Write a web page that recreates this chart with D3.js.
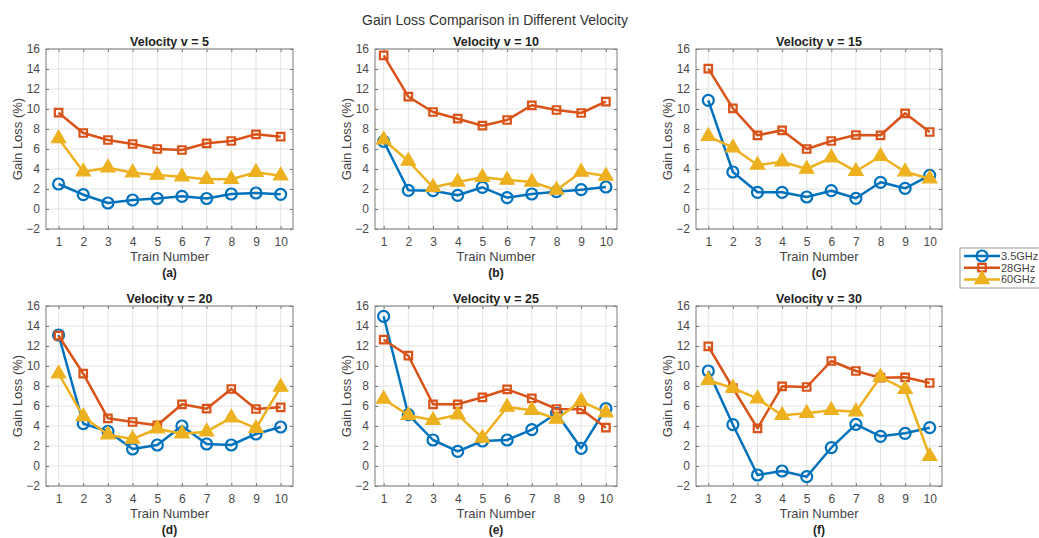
<!DOCTYPE html>
<html>
<head>
<meta charset="utf-8">
<script src="https://cdn.jsdelivr.net/npm/d3@7"></script>
<style>
  body { margin: 0; background: #fff; }
  svg { font-family: "Liberation Sans", Arial, sans-serif; }
  .tick text { fill: #4a4a4a; font-size: 12px; }
</style>
</head>
<body>
<svg id="chart" width="1039" height="538"></svg>
<script>
var trains = [1, 2, 3, 4, 5, 6, 7, 8, 9, 10]
var yTicks = [-2, 0, 2, 4, 6, 8, 10, 12, 14, 16]
var velocities = [5, 10, 15, 20, 25, 30]
var letters = ["a", "b", "c", "d", "e", "f"]
var seriesNames = ["3.5GHz", "28GHz", "60GHz"]

// gain loss (%) per velocity, one array per train
var ghz35 = [
  [2.5, 1.43, 0.6, 0.9, 1.05, 1.27, 1.05, 1.5, 1.6, 1.47],
  [6.77, 1.87, 1.83, 1.37, 2.17, 1.13, 1.5, 1.73, 1.93, 2.2],
  [10.87, 3.7, 1.67, 1.67, 1.2, 1.83, 1.07, 2.67, 2.07, 3.37],
  [13.1, 4.23, 3.47, 1.7, 2.1, 4.0, 2.2, 2.1, 3.2, 3.9],
  [14.97, 5.13, 2.6, 1.47, 2.5, 2.6, 3.63, 5.27, 1.77, 5.73],
  [9.5, 4.13, -0.9, -0.5, -1.07, 1.83, 4.17, 2.97, 3.27, 3.83]
]
var ghz28 = [
  [9.63, 7.6, 6.9, 6.5, 6.0, 5.9, 6.57, 6.8, 7.47, 7.23],
  [15.37, 11.23, 9.7, 9.03, 8.33, 8.9, 10.37, 9.9, 9.6, 10.73],
  [14.03, 10.07, 7.37, 7.87, 6.0, 6.8, 7.4, 7.37, 9.57, 7.7],
  [13.03, 9.23, 4.77, 4.4, 4.07, 6.17, 5.73, 7.7, 5.7, 5.87],
  [12.63, 11.03, 6.17, 6.17, 6.87, 7.67, 6.77, 5.7, 5.67, 3.83],
  [11.97, 7.8, 3.77, 7.97, 7.9, 10.5, 9.5, 8.83, 8.87, 8.3]
]
var ghz60 = [
  [7.05, 3.73, 4.13, 3.63, 3.4, 3.23, 2.97, 2.97, 3.67, 3.33],
  [6.93, 4.8, 2.17, 2.7, 3.17, 2.9, 2.7, 1.9, 3.7, 3.3],
  [7.27, 6.13, 4.4, 4.73, 4.0, 5.13, 3.77, 5.27, 3.73, 3.03],
  [9.23, 4.96, 3.13, 2.7, 3.73, 3.23, 3.43, 4.83, 3.77, 7.9],
  [6.7, 5.07, 4.57, 5.13, 2.8, 5.9, 5.57, 4.7, 6.47, 5.33],
  [8.57, 7.8, 6.73, 5.07, 5.27, 5.57, 5.43, 8.9, 7.67, 0.97]
]

var colors = ["#0072BD", "#D95319", "#EDB120"]
var allSeries = [ghz35, ghz28, ghz60]

// panel geometry
var cols = [
  {left: 46, right: 293, xlim: [0.49, 10.5]},
  {left: 375, right: 617, xlim: [0.65, 10.45]},
  {left: 696, right: 942, xlim: [0.5, 10.5]}
]
var rows = [{top: 49, bottom: 229}, {top: 306, bottom: 486}]

var svg = d3.select("#chart")

svg.append("text")
  .attr("x", 495).attr("y", 25)
  .attr("text-anchor", "middle")
  .style("font-size", "14px").style("fill", "#333")
  .text("Gain Loss Comparison in Different Velocity")

var circleSym = d3.symbol().type(d3.symbolCircle).size(95)
var squareSym = d3.symbol().type(d3.symbolSquare).size(56)
var triSym = d3.symbol().type(d3.symbolTriangle).size(90)
var symbols = [circleSym, squareSym, triSym]

function drawMarker(sel, k) {
  sel.attr("d", symbols[k])
    .attr("fill", k === 2 ? colors[2] : "none")
    .attr("stroke", colors[k])
    .attr("stroke-width", k === 2 ? 1.2 : 2.2)
}

velocities.forEach(function(v, i) {
  var c = cols[i % 3], r = rows[Math.floor(i / 3)]
  var x = d3.scaleLinear().domain(c.xlim).range([c.left, c.right])
  var y = d3.scaleLinear().domain([-2, 16]).range([r.bottom, r.top])
  var g = svg.append("g")

  // grid
  g.selectAll(".gx").data(trains).enter().append("line")
    .attr("x1", function(d) { return x(d) }).attr("x2", function(d) { return x(d) })
    .attr("y1", r.top).attr("y2", r.bottom)
    .attr("stroke", "#e3e3e3").attr("stroke-width", 1)
  g.selectAll(".gy").data(yTicks).enter().append("line")
    .attr("y1", function(d) { return y(d) }).attr("y2", function(d) { return y(d) })
    .attr("x1", c.left).attr("x2", c.right)
    .attr("stroke", "#e3e3e3").attr("stroke-width", 1)

  // axes, ticks inside like matlab
  g.append("g").attr("transform", "translate(0," + r.bottom + ")")
    .call(d3.axisBottom(x).tickValues(trains).tickSizeInner(-3).tickSizeOuter(0).tickPadding(8))
  g.append("g").attr("transform", "translate(0," + r.top + ")")
    .call(d3.axisTop(x).tickValues(trains).tickSizeInner(-3).tickSizeOuter(0).tickFormat(""))
  g.append("g").attr("transform", "translate(" + c.left + ",0)")
    .call(d3.axisLeft(y).tickValues(yTicks).tickSizeInner(-3).tickSizeOuter(0).tickPadding(6))
  g.append("g").attr("transform", "translate(" + c.right + ",0)")
    .call(d3.axisRight(y).tickValues(yTicks).tickSizeInner(-3).tickSizeOuter(0).tickFormat(""))
  g.selectAll(".domain").remove()
  g.selectAll(".tick line").attr("stroke", "#777")
  g.selectAll(".tick text").style("font-family", "Liberation Sans, Arial, sans-serif")

  g.append("rect")
    .attr("x", c.left).attr("y", r.top)
    .attr("width", c.right - c.left).attr("height", r.bottom - r.top)
    .attr("fill", "none").attr("stroke", "#7a7a7a").attr("stroke-width", 1)

  // series
  var line = d3.line().x(function(d, j) { return x(trains[j]) }).y(function(d) { return y(d) })
  allSeries.forEach(function(s, k) {
    g.append("path").datum(s[i])
      .attr("d", line).attr("fill", "none")
      .attr("stroke", colors[k]).attr("stroke-width", 2.5)
      .attr("stroke-linejoin", "round")
    g.selectAll(".m" + k).data(s[i]).enter().append("path")
      .attr("transform", function(d, j) { return "translate(" + x(trains[j]) + "," + y(d) + ")" })
      .call(drawMarker, k)
  })

  var mid = (c.left + c.right) / 2
  g.append("text").attr("x", mid).attr("y", r.top - 3)
    .attr("text-anchor", "middle")
    .style("font-size", "12.5px").style("font-weight", "bold").style("fill", "#222")
    .text("Velocity v = " + v)
  g.append("text").attr("x", mid).attr("y", r.bottom + 32)
    .attr("text-anchor", "middle")
    .style("font-size", "13px").style("fill", "#444")
    .text("Train Number")
  g.append("text").attr("x", mid).attr("y", r.bottom + 48)
    .attr("text-anchor", "middle")
    .style("font-size", "12px").style("font-weight", "bold").style("fill", "#222")
    .text("(" + letters[i] + ")")
  g.append("text")
    .attr("transform", "translate(" + (c.left - 24) + "," + ((r.top + r.bottom) / 2) + ") rotate(-90)")
    .attr("text-anchor", "middle")
    .style("font-size", "13px").style("fill", "#444")
    .text("Gain Loss (%)")
})

// legend
var leg = svg.append("g").attr("transform", "translate(960,248)")
leg.append("rect").attr("width", 82).attr("height", 40)
  .attr("fill", "#fff").attr("stroke", "#999").attr("stroke-width", 1)
seriesNames.forEach(function(name, k) {
  var yy = 8 + k * 11.7
  leg.append("line").attr("x1", 4).attr("x2", 40).attr("y1", yy).attr("y2", yy)
    .attr("stroke", colors[k]).attr("stroke-width", 2.5)
  leg.append("path").attr("transform", "translate(22," + yy + ")").call(drawMarker, k)
  leg.append("text").attr("x", 41).attr("y", yy + 4)
    .style("font-size", "11px").style("fill", "#444")
    .text(name)
})
</script>
</body>
</html>
